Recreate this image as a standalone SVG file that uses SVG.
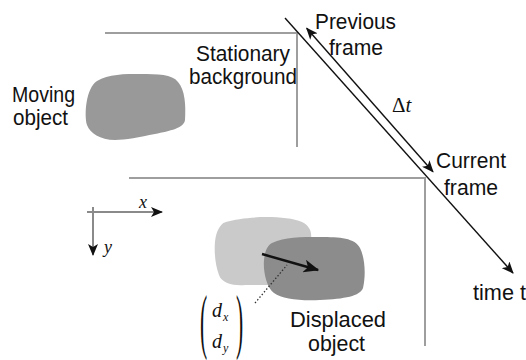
<svg xmlns="http://www.w3.org/2000/svg" width="526" height="360" viewBox="0 0 526 360">
<style>
.lbl{font-family:"Liberation Sans",Arial,sans-serif;font-size:22px;fill:#111}
.math{font-family:"Liberation Serif","Times New Roman",serif;fill:#111}
.frame{stroke:#9e9e9e;stroke-width:2;fill:none}
.conn{stroke:#111;stroke-width:1.4;fill:none}
.axis{stroke:#8a8a8a;stroke-width:2;fill:none}
</style>
<defs>
<marker id="ah" viewBox="0 0 12 10" refX="11" refY="5" markerWidth="12" markerHeight="10" markerUnits="userSpaceOnUse" orient="auto-start-reverse">
<path d="M0,0 L12,5 L0,10 L3,5 Z" fill="#111"/>
</marker>
<marker id="ahb" viewBox="0 0 12 10" refX="11" refY="5" markerWidth="16" markerHeight="13" markerUnits="userSpaceOnUse" orient="auto">
<path d="M0,0 L12,5 L0,10 L3,5 Z" fill="#111"/>
</marker>
</defs>
<rect width="526" height="360" fill="#fff"/>

<g id="previous-frame">
<path class="frame" d="M105,33 H298 M297,33 V147"/>
</g>
<g id="current-frame">
<path class="frame" d="M129,178 H426 M425,178 V346"/>
</g>

<g id="moving-object">
<path fill="#999" d="M97,81 C108,74 125,74 140,74 C158,74 172,74 178,82 C185,90 186,105 185,120 C184,128 170,131 155,134 C140,137 125,140 115,140 C100,140 90,133 87,125 C84,115 86,88 97,81 Z"/>
<text class="lbl" x="12" y="102" textLength="63" lengthAdjust="spacingAndGlyphs">Moving</text>
<text class="lbl" x="13" y="125" textLength="55" lengthAdjust="spacingAndGlyphs">object</text>
</g>

<g id="stationary-background">
<text class="lbl" x="196" y="61" textLength="94" lengthAdjust="spacingAndGlyphs">Stationary</text>
<text class="lbl" x="189" y="84" textLength="108" lengthAdjust="spacingAndGlyphs">background</text>
</g>

<g id="previous-label">
<text class="lbl" x="315" y="29" textLength="81" lengthAdjust="spacingAndGlyphs">Previous</text>
<text class="lbl" x="329" y="55" textLength="54" lengthAdjust="spacingAndGlyphs">frame</text>
</g>

<g id="delta-t">
<text class="math" x="392" y="112" font-size="21">Δ<tspan font-style="italic">t</tspan></text>
</g>

<g id="current-label">
<text class="lbl" x="436" y="168" textLength="70" lengthAdjust="spacingAndGlyphs">Current</text>
<text class="lbl" x="444" y="195" textLength="54" lengthAdjust="spacingAndGlyphs">frame</text>
</g>

<g id="time-label">
<text class="lbl" x="473" y="300" textLength="53" lengthAdjust="spacingAndGlyphs">time t</text>
</g>

<g id="axes">
<text class="math" x="139" y="208" font-size="18" font-style="italic">x</text>
<text class="math" x="104" y="253" font-size="18" font-style="italic">y</text>
</g>

<g id="displaced-object">
<path fill="#cacaca" d="M226,222 C245,216 285,215 302,222 C310,226 312,232 311,240 L300,285 L245,285 C235,286 222,284 219,275 C214,262 213,240 218,230 C220,226 222,223 226,222 Z"/>
<path fill="#8c8c8c" d="M272,243 C285,237 300,237 320,237 C340,237 355,238 360,248 C365,258 366,275 363,288 C360,296 345,299 320,300 C300,301 282,299 274,293 C266,287 263,270 264,260 C265,250 268,245 272,243 Z"/>
<text class="lbl" x="290" y="327" textLength="96" lengthAdjust="spacingAndGlyphs">Displaced</text>
<text class="lbl" x="308" y="351" textLength="57" lengthAdjust="spacingAndGlyphs">object</text>
</g>

<g id="displacement-vector">
<text class="math" font-size="72" transform="translate(200,345) scale(0.3,1)">(</text>
<text class="math" font-size="72" transform="translate(236,345) scale(0.3,1)">)</text>
<text class="math" x="212" y="317" font-size="20" font-style="italic">d</text>
<text class="math" x="223" y="321" font-size="12" font-style="italic">x</text>
<text class="math" x="212" y="348" font-size="20" font-style="italic">d</text>
<text class="math" x="223" y="352" font-size="12" font-style="italic">y</text>
</g>

<g id="connectors">
<line class="conn" x1="285" y1="18" x2="513" y2="273" marker-end="url(#ah)"/>
<line class="conn" x1="306.7" y1="28.3" x2="433" y2="171.7" marker-start="url(#ah)" marker-end="url(#ah)"/>
<line class="axis" x1="87" y1="212" x2="162" y2="212" marker-end="url(#ah)"/>
<line class="axis" x1="93" y1="207" x2="93" y2="255" marker-end="url(#ah)"/>
<line stroke="#111" stroke-width="2.4" x1="262" y1="254" x2="318" y2="270" marker-end="url(#ahb)"/>
<line stroke="#333" stroke-width="1.3" stroke-dasharray="1.5,2" x1="255" y1="303" x2="287" y2="265"/>
</g>
</svg>
